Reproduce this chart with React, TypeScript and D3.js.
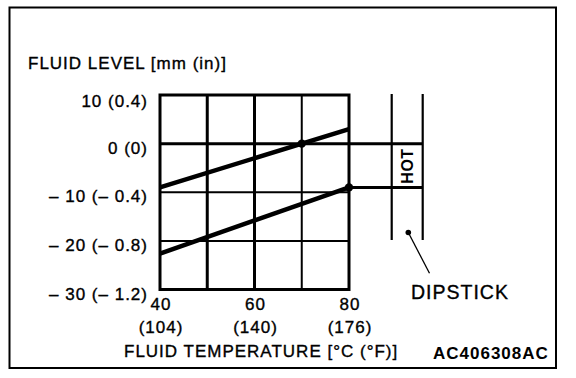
import React from "react";
import * as d3 from "d3";

// ---- data ----
const gridTempsC = [40, 50, 60, 70, 80];
const tickTempsC = [40, 60, 80];
const tickTempsF = [104, 140, 176];
const levelTicksMm = [10, 0, -10, -20, -30];
const levelTicksMmText = ["10", "0", "– 10", "– 20", "– 30"];
const levelTicksInText = ["0.4", "0", "– 0.4", "– 0.8", "– 1.2"];
const gridLevels = [0, -10, -20];
const upperLineTemps = [40, 80];
const upperLineLevels = [-9, 3];
const lowerLineTemps = [40, 80];
const lowerLineLevels = [-22.6, -9];
const markTemps = [70, 80];
const markLevels = [0, -9];
const hotLevels = [0, -9];

const W = 576;
const H = 378;
const FONT = "'Liberation Sans', Arial, Helvetica, sans-serif";

export default function App() {
  const x = d3.scaleLinear().domain([40, 80]).range([160, 349]);
  const y = d3.scaleLinear().domain([-30, 10]).range([289.5, 95]);

  const line = d3
    .line<[number, number]>()
    .x((d) => x(d[0]))
    .y((d) => y(d[1]));

  const upper = upperLineTemps.map((t, i) => [t, upperLineLevels[i]] as [number, number]);
  const lower = lowerLineTemps.map((t, i) => [t, lowerLineLevels[i]] as [number, number]);

  const vWidth = (t: number) => (t === 70 ? 2 : 3);
  const hWidth = (v: number) => (v === 0 ? 3 : 2);

  const dipL = 391.7;
  const dipR = 422.7;
  const dipTop = 94;
  const dipBottom = 240;

  const txt = { fill: "#000", stroke: "#000", strokeWidth: 0.35, letterSpacing: 1 } as const;

  return (
    <svg
      width={W}
      height={H}
      style={{ position: "absolute", left: 0, top: 0, background: "#fff" }}
      fontFamily={FONT}
    >
      <rect x={0} y={0} width={W} height={H} fill="#fff" />
      {/* frame */}
      <rect x={9.5} y={7.5} width={546.5} height={360.5} fill="none" stroke="#000" strokeWidth={2} />

      {/* y axis title */}
      <text x={28} y={69} fontSize={17} {...txt}>
        FLUID LEVEL [mm (in)]
      </text>

      {/* grid */}
      {gridTempsC.slice(1, -1).map((t) => (
        <line key={"v" + t} x1={x(t)} x2={x(t)} y1={y(10)} y2={y(-30)} stroke="#000" strokeWidth={vWidth(t)} />
      ))}
      {gridLevels.map((v) => (
        <line
          key={"h" + v}
          x1={x(40)}
          x2={v === 0 ? dipR : x(80)}
          y1={y(v)}
          y2={y(v)}
          stroke="#000"
          strokeWidth={hWidth(v)}
        />
      ))}
      <rect
        x={x(40)}
        y={y(10)}
        width={x(80) - x(40)}
        height={y(-30) - y(10)}
        fill="none"
        stroke="#000"
        strokeWidth={3}
      />

      {/* y tick labels */}
      {levelTicksMm.map((v, i) => (
        <text
          key={"yl" + v}
          x={148}
          y={y(v) + (i === 0 ? 12 : 10)}
          textAnchor="end"
          fontSize={17}
          {...txt}
        >
          {levelTicksMmText[i]} ({levelTicksInText[i]})
        </text>
      ))}

      {/* x tick labels */}
      {tickTempsC.map((t, i) => (
        <g key={"xl" + t}>
          <text x={x(t) + 1} y={310} textAnchor="middle" fontSize={17} {...txt}>
            {t}
          </text>
          <text x={x(t) + 1} y={333} textAnchor="middle" fontSize={17} {...txt}>
            ({tickTempsF[i]})
          </text>
        </g>
      ))}
      <text x={124} y={357} fontSize={17} {...txt}>
        FLUID TEMPERATURE [°C (°F)]
      </text>

      {/* data lines */}
      <path d={line(upper) || ""} fill="none" stroke="#000" strokeWidth={4.5} />
      <path d={line(lower) || ""} fill="none" stroke="#000" strokeWidth={4.5} />
      {markTemps.map((t, i) => (
        <circle key={"m" + t} cx={x(t)} cy={y(markLevels[i])} r={4.2} fill="#000" />
      ))}

      {/* dipstick */}
      <line x1={dipL} x2={dipL} y1={dipTop} y2={dipBottom} stroke="#000" strokeWidth={2.2} />
      <line x1={dipR} x2={dipR} y1={dipTop} y2={dipBottom} stroke="#000" strokeWidth={2.2} />
      <line x1={x(80)} x2={dipR} y1={y(hotLevels[1])} y2={y(hotLevels[1])} stroke="#000" strokeWidth={3} />
      <text
        transform={`translate(413.3, ${(y(hotLevels[0]) + y(hotLevels[1])) / 2 + 0.5}) rotate(-90)`}
        textAnchor="middle"
        fontSize={16}
        fontWeight="bold"
        letterSpacing={0.5}
        fill="#000"
      >
        HOT
      </text>
      <circle cx={408.3} cy={232.5} r={2.8} fill="#000" />
      <line x1={408.3} y1={232.5} x2={429.5} y2={273.3} stroke="#000" strokeWidth={1.3} />
      <text x={411} y={299} fontSize={19.5} {...txt}>
        DIPSTICK
      </text>

      {/* code */}
      <text x={433} y={359} fontSize={17} fontWeight="bold" letterSpacing={1} fill="#000">
        AC406308AC
      </text>
    </svg>
  );
}
